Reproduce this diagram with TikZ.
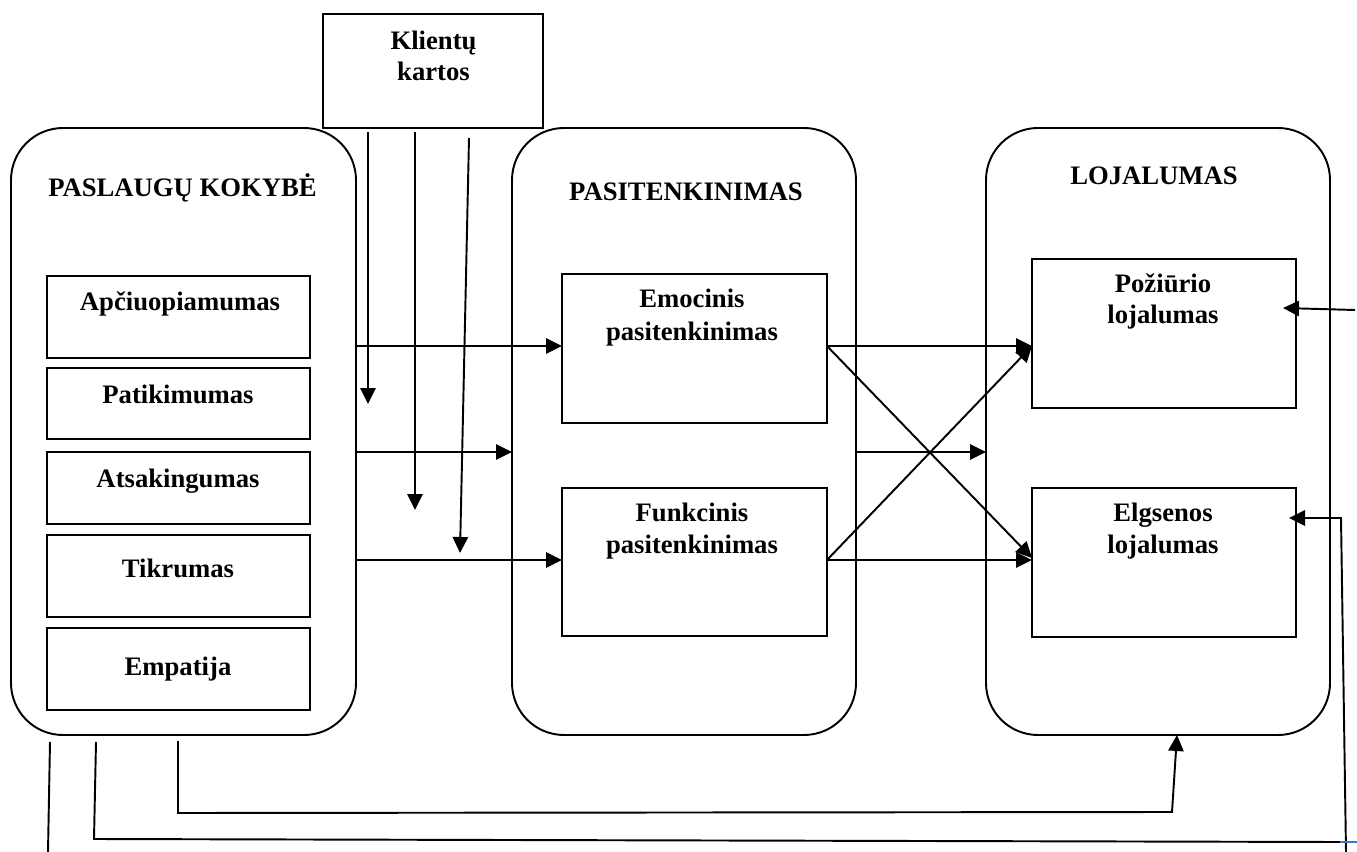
\documentclass[tikz,border=0pt]{standalone}
\usepackage{fontspec}
\setmainfont{Liberation Serif}
\usetikzlibrary{arrows.meta}
\def\pxu{0.75pt}
\definecolor{wordblue}{RGB}{68,114,196}
\begin{document}
\begin{tikzpicture}[x=0.75pt, y=-0.75pt, line width=1.45pt,
  sq/.style 2 args={draw, rectangle, inner sep=0pt, outer sep=0pt,
    minimum width=#1*\pxu, minimum height=#2*\pxu},
  rbox/.style 2 args={sq={#1}{#2}, rounded corners=39pt},
  lbl/.style={anchor=base, inner sep=0pt,
    font=\fontsize{20}{23}\selectfont\bfseries},
  arr/.style={-{Triangle[length=12pt,width=11.5pt]}}]
\useasboundingbox (0,0) rectangle (1357,852);

% outer groups
\node[sq={220}{114}] (kk) at (433,71) {};
\node[rbox={345}{607}] (pk) at (183.5,431.5) {};
\node[rbox={344}{607}] (pt) at (684,431.5) {};
\node[rbox={344}{607}] (lj) at (1158,431.5) {};

% service quality dimensions
\node[sq={263}{82}] (apc) at (178.5,317) {};
\node[sq={263}{71}] (pat) at (178.5,403.5) {};
\node[sq={263}{72}] (ats) at (178.5,488) {};
\node[sq={263}{82}] (tik) at (178.5,576) {};
\node[sq={263}{82}] (emp) at (178.5,669) {};

% satisfaction and loyalty boxes
\node[sq={265}{149}] (emo) at (694.5,348.5) {};
\node[sq={265}{148}] (fun) at (694.5,562) {};
\node[sq={264}{149}] (poz) at (1164,333.5) {};
\node[sq={264}{149}] (elg) at (1164,562.5) {};

% labels
\node[lbl] (kk1) at (433.5,50) {Klientų};
\node[lbl] (kk2) at (433.5,81) {kartos};
\node[lbl] (pkt) at (182.5,197) {PASLAUGŲ KOKYBĖ};
\node[lbl] (ptt) at (686,201) {PASITENKINIMAS};
\node[lbl] (ljt) at (1154,185) {LOJALUMAS};
\node[lbl] (apct) at (180,311) {Apčiuopiamumas};
\node[lbl] (patt) at (178,403) {Patikimumas};
\node[lbl] (atst) at (178,487) {Atsakingumas};
\node[lbl] (tikt) at (178,577) {Tikrumas};
\node[lbl] (empt) at (178,675) {Empatija};
\node[lbl] (emo1) at (692,308) {Emocinis};
\node[lbl] (emo2) at (692,340) {pasitenkinimas};
\node[lbl] (fun1) at (692,521) {Funkcinis};
\node[lbl] (fun2) at (692,553) {pasitenkinimas};
\node[lbl] (poz1) at (1163,293) {Požiūrio};
\node[lbl] (poz2) at (1163,324) {lojalumas};
\node[lbl] (elg1) at (1163,521) {Elgsenos};
\node[lbl] (elg2) at (1163,553) {lojalumas};

% reference heights for the horizontal links
\coordinate (ya) at (0,346);
\coordinate (yb) at (0,452);
\coordinate (yc) at (0,560);
\coordinate (ye) at (0,558);

% quality -> satisfaction
\draw[arr] (pk.east |- ya) -- (emo.west |- ya);
\draw[arr] (pk.east |- yb) -- (pt.west |- yb);
\draw[arr] (pk.east |- yc) -- (fun.west |- yc);

% satisfaction -> loyalty
\draw[arr] (emo.east |- ya) -- (poz.west |- ya);
\draw[arr] (emo.east |- ya) -- (elg.west |- ye);
\draw[arr] (fun.east |- yc) -- (poz.west |- ya);
\draw[arr] (fun.east |- yc) -- (elg.west |- yc);
\draw[arr] (pt.east |- yb) -- (lj.west |- yb);

% customer generations as moderators
\coordinate (k1s) at (368,132);
\coordinate (k1e) at (368,404);
\coordinate (k2s) at (415,132);
\coordinate (k2e) at (415,510);
\coordinate (k3s) at (469,138);
\coordinate (k3e) at (460,553);
\draw[arr] (k1s) -- (k1e);
\draw[arr] (k2s) -- (k2e);
\draw[arr] (k3s) -- (k3e);

% links entering loyalty from the right
\coordinate (rs) at (1355,310);
\coordinate (rt) at (1283,308);
\draw[arr] (rs) -- (rt);
\coordinate (eb) at (1346,852);
\coordinate (ec) at (1341,518);
\coordinate (et) at (1289,518);
\draw[arr] (eb) -- (ec) -- (et);

% links along the bottom
\coordinate (b1s) at (50,742);
\coordinate (b1e) at (48,852);
\draw (b1s) -- (b1e);
\coordinate (b2s) at (96,742);
\coordinate (b2c) at (94,839);
\coordinate (b2e) at (1340,842);
\coordinate (b2x) at (1357,842);
\draw (b2s) -- (b2c) -- (b2e);
\draw[wordblue, line width=1pt] (b2e) -- (b2x);
\coordinate (b3s) at (178,741);
\coordinate (b3c) at (178,813);
\coordinate (b3d) at (1172,812);
\draw[arr] (b3s) -- (b3c) -- (b3d) -- (lj.south -| 1177,0);
\end{tikzpicture}
\end{document}
